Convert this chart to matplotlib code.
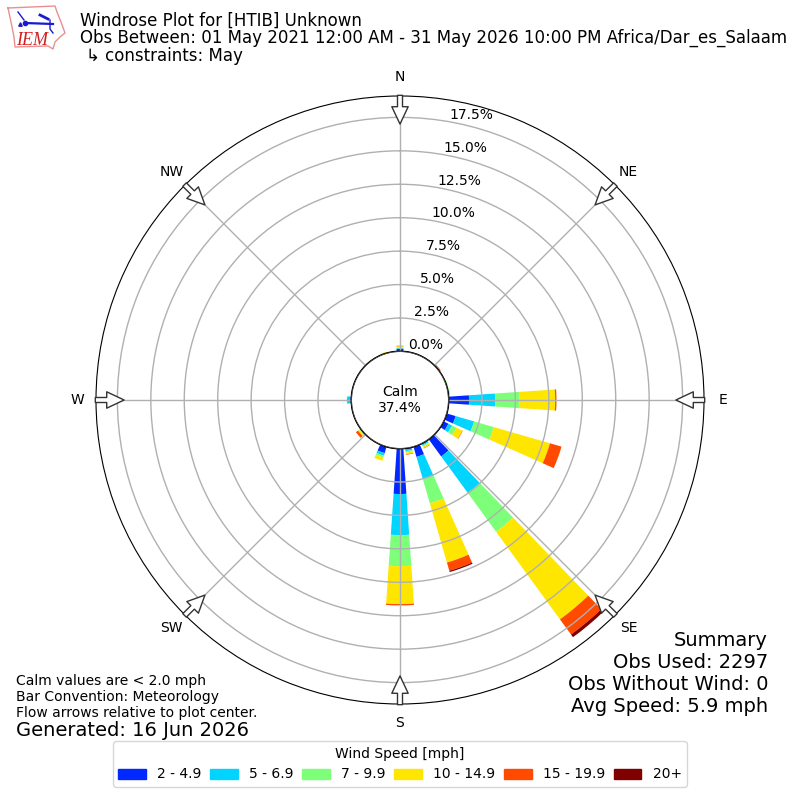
import numpy as np
import matplotlib
matplotlib.use("Agg")
from matplotlib import pyplot as plt
from matplotlib.patches import Circle, Patch

# direction of each bar, degrees from north
directions = [0, 50, 70, 80, 90, 110, 120, 140, 150, 160, 170, 180, 200, 230, 270, 320, 340]

# percent of observations per speed bin
speed_2 = [0.20, 0.02, 0.02, 0.02, 1.53, 0.70, 0.40, 1.60, 0.08, 0.80, 0.10, 3.40, 0.50, 0.04, 0.08, 0.00, 0.00]
speed_5 = [0.05, 0.02, 0.05, 0.06, 1.95, 1.44, 0.30, 3.37, 0.10, 1.72, 0.12, 3.07, 0.20, 0.04, 0.25, 0.00, 0.02]
speed_7 = [0.05, 0.02, 0.04, 0.05, 1.80, 1.53, 0.37, 3.60, 0.08, 1.90, 0.10, 2.32, 0.15, 0.07, 0.02, 0.01, 0.02]
speed_10 = [0.10, 0.02, 0.01, 0.01, 2.69, 4.37, 0.50, 8.10, 0.12, 4.60, 0.13, 2.84, 0.25, 0.10, 0.00, 0.06, 0.08]
speed_15 = [0.03, 0.02, 0.00, 0.00, 0.10, 0.90, 0.03, 1.40, 0.03, 0.64, 0.04, 0.10, 0.00, 0.20, 0.00, 0.00, 0.00]
speed_20 = [0.00, 0.03, 0.00, 0.00, 0.00, 0.00, 0.00, 0.25, 0.00, 0.10, 0.00, 0.00, 0.00, 0.00, 0.00, 0.00, 0.00]

speed_values = [speed_2, speed_5, speed_7, speed_10, speed_15, speed_20]
speed_labels = ["2 - 4.9", "5 - 6.9", "7 - 9.9", "10 - 14.9", "15 - 19.9", "20+"]
speed_colors = ["#0028ff", "#00d4ff", "#7dff7a", "#ffe600", "#ff4a00", "#800000"]

ring_ticks = [0, 2.5, 5, 7.5, 10, 12.5, 15, 17.5]
ring_labels = ["0.0%", "2.5%", "5.0%", "7.5%", "10.0%", "12.5%", "15.0%", "17.5%"]
compass_deg = [0, 45, 90, 135, 180, 225, 270, 315]
compass_labels = ["N", "NE", "E", "SE", "S", "SW", "W", "NW"]

fig = plt.figure(figsize=(8, 8), dpi=100)
ax = fig.add_axes([96 / 800, 96 / 800, 608 / 800, 608 / 800], projection="polar")
ax.set_theta_zero_location("N")
ax.set_theta_direction(-1)
ax.set_rorigin(-3.63)
ax.set_rlim(0, 19.1)
ax.set_axisbelow(False)

theta = np.radians(directions)
bottom = np.zeros(len(directions))
for vals, color in zip(speed_values, speed_colors):
    ax.bar(theta, vals, width=np.radians(7.8), bottom=bottom, color=color, linewidth=0, zorder=2)
    bottom = bottom + np.array(vals)

ax.set_rticks(ring_ticks)
ax.set_yticklabels(ring_labels, fontsize=10)
ax.set_rlabel_position(10)
ax.set_xticks(np.radians(compass_deg))
ax.set_xticklabels(compass_labels, fontsize=10)
ax.tick_params(axis="x", pad=3.2)
ax.grid(True, color="#b0b0b0", linewidth=1, zorder=3)

# flow arrows pointing to the centre
for d in compass_deg:
    ax.annotate(
        "",
        xy=(np.radians(d), 17.0),
        xytext=(np.radians(d), 19.15),
        annotation_clip=False,
        arrowprops=dict(width=3.6, headwidth=11.8, headlength=12.5, shrink=0,
                        facecolor="white", edgecolor="#333333", linewidth=1),
        zorder=6,
    )

# calm circle
ax.add_patch(Circle((0.5, 0.5), 48.5 / 608, transform=ax.transAxes, facecolor="white",
                    edgecolor="black", linewidth=1.4, zorder=7))
ax.text(0.5, 0.5, "Calm\n37.4%", transform=ax.transAxes, ha="center", va="center", fontsize=10, zorder=8)

# headers
fig.text(80 / 800, 1 - 12 / 800, "Windrose Plot for [HTIB] Unknown", fontsize=12, va="top")
fig.text(80 / 800, 1 - 29 / 800, "Obs Between: 01 May 2021 12:00 AM - 31 May 2026 10:00 PM Africa/Dar_es_Salaam",
         fontsize=12, va="top")
fig.text(86 / 800, 1 - 47 / 800, "↳ constraints: May", fontsize=12, va="top")

fig.text(768 / 800, 1 - 716 / 800, "Summary\nObs Used: 2297\nObs Without Wind: 0\nAvg Speed: 5.9 mph",
         ha="right", va="bottom", fontsize=14)
fig.text(16 / 800, 1 - 720 / 800, "Calm values are < 2.0 mph\nBar Convention: Meteorology\nFlow arrows relative to plot center.",
         ha="left", va="bottom", fontsize=10)
fig.text(16 / 800, 1 - 740 / 800, "Generated: 16 Jun 2026", ha="left", va="bottom", fontsize=14)

handles = [Patch(color=c, label=l) for c, l in zip(speed_colors, speed_labels)]
fig.legend(handles=handles, title="Wind Speed [mph]", ncol=6, loc="lower center", columnspacing=0.62,
           bbox_to_anchor=(0.5, 0.0075), fontsize=10, title_fontsize=10)

# IEM logo
logo = fig.add_axes([0, 1 - 55 / 800, 75 / 800, 55 / 800])
logo.set_xlim(0, 75)
logo.set_ylim(55, 0)
logo.axis("off")
outline_x = [8, 55, 57, 61, 65, 60, 55, 53, 48, 15, 14, 11, 8]
outline_y = [8, 6, 12, 22, 33, 37, 42, 49, 46, 47, 37, 22, 8]
logo.plot(outline_x, outline_y, color="#e89090", linewidth=1)
logo.plot([25, 53], [23, 24], color="#1a1ad0", linewidth=1.6)
logo.plot([18, 24], [12, 20], color="#1a1ad0", linewidth=1)
logo.plot([40, 48], [15, 19], color="#1a1ad0", linewidth=2)
logo.plot([50, 50, 53], [20, 29, 33], color="#1a1ad0", linewidth=1)
logo.plot([25], [23], "o", color="#1a1ad0", markersize=3)
logo.plot([20], [24], "^", color="#1a1ad0", markersize=2.5)
logo.text(16, 45, "IEM", family="Liberation Serif", style="italic", color="#d02020", fontsize=13, va="baseline")

fig.savefig("out.png", dpi=100)
